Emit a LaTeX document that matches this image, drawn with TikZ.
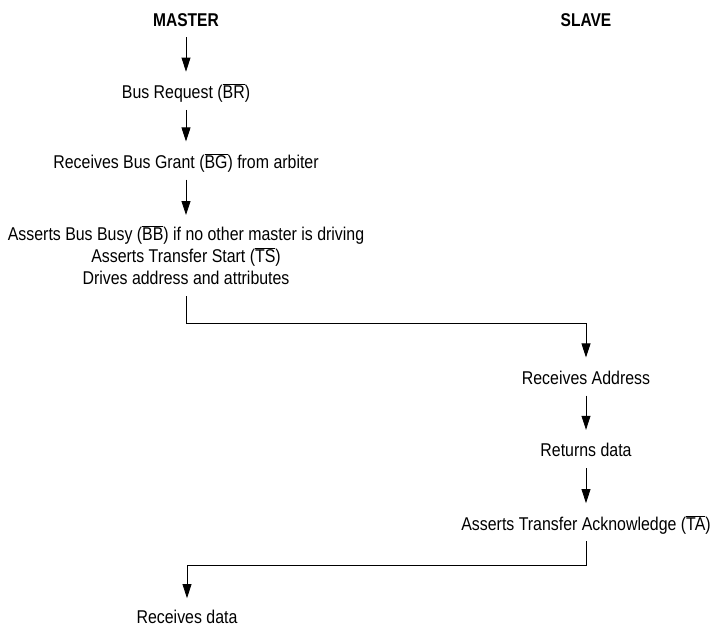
\documentclass[tikz,border=0pt]{standalone}
\usepackage{fontspec}
\setmainfont{Liberation Sans}[FakeStretch=0.86]
\newfontfamily\headfont{Liberation Sans}[FakeStretch=0.84]
\usetikzlibrary{arrows.meta, calc}

\newcommand{\negsig}[1]{$\overline{\mbox{#1}}$}

\begin{document}
\begin{tikzpicture}[x=1pt, y=-1pt, >={Triangle[length=14pt, width=9pt]}, line width=0.8pt,
    every node/.style={font=\fontsize{18.5}{22}\selectfont, inner sep=0pt, text height=13pt, text depth=4pt, anchor=base},
    head/.style={font=\headfont\bfseries\fontsize{18.5}{22}\selectfont},
    flow/.style={->, shorten <=7pt, shorten >=13.5pt}]
        \useasboundingbox (0,0) rectangle (710,627);

        % Nodes
        \node[head] (master) at (186, 26)  {MASTER};
        \node[head] (slave)  at (586, 26)  {SLAVE};
        \node (breq)   at (186, 98.5)  {Bus Request (\negsig{BR})};
        \node (bgrant) at (186, 168.3) {Receives Bus Grant (\negsig{BG}) from arbiter};
        \node[align=center, anchor=north, text height=, text depth=] (busy) at (186, 225.5)
            {Asserts Bus Busy (\negsig{BB}) if no other master is driving\\
             Asserts Transfer Start (\negsig{TS})\\
             Drives address and attributes};
        \node (raddr)  at (586, 384.3) {Receives Address};
        \node (rdata)  at (586, 456.7) {Returns data};
        \node (tack)   at (586, 530)   {Asserts Transfer Acknowledge (\negsig{TA})};
        \node[text depth=0pt] (mdata) at (187, 623.5) {Receives data};

        % Turning points
        \coordinate (turnA) at (386, 323);
        \coordinate (turnB) at (386, 565);

        % Edges
        \draw[flow] (master) -- (breq);
        \draw[flow] (breq) -- (bgrant);
        \draw[flow, shorten >=10.5pt] (bgrant) -- (busy);
        \draw[flow, shorten <=11.2pt] (busy.south) -- (busy.south |- turnA) -| (raddr.north);
        \draw[flow] (raddr) -- (rdata);
        \draw[flow] (rdata) -- (tack);
        \draw[flow, shorten >=12pt] (tack.south) -- (tack.south |- turnB) -| (mdata.north);
      \end{tikzpicture}
\end{document}
